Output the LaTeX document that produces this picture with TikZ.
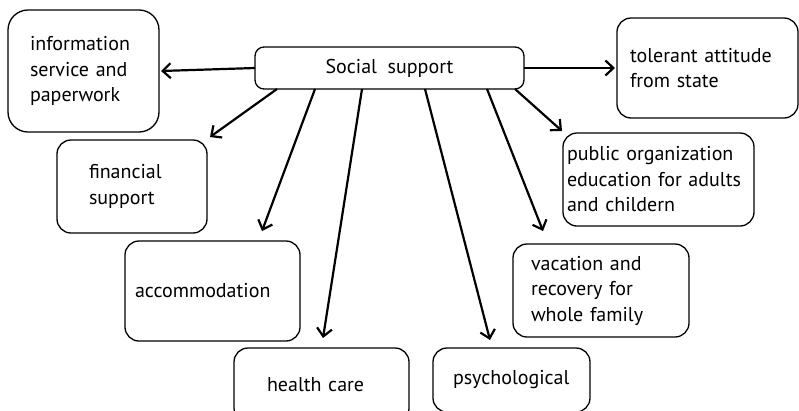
\documentclass[tikz,border=0pt]{standalone}
\usepackage{fontspec}
\setmainfont{PT Sans}
\usetikzlibrary{arrows.meta}

\begin{document}
\begin{tikzpicture}[x=1pt,y=-1pt,
    box/.style={draw, rounded corners=14pt, line width=1.3pt, anchor=north west,
        align=left, inner ysep=0pt, outer sep=0pt, font=\fontsize{20}{25.5}\selectfont},
    arr/.style={line width=2.2pt, -{Straight Barb[length=8pt,width=15pt]}}]
    \useasboundingbox (0,0) rectangle (799,410);
    \clip (0,0) rectangle (799,410);
    \node[box, rounded corners=9pt, align=center, minimum width=269, minimum height=42] (soc) at (255,47) {Social~~support};
    \node[box, rounded corners=20pt, minimum width=151, minimum height=122, text width=107, inner xsep=22] (info) at (8,10) {information\\service and\\paperwork};
    \node[box, minimum width=181, minimum height=100, text width=155, inner xsep=13] (tol) at (617,18) {tolerant attitude\\from state};
    \node[box, minimum width=150, minimum height=93, text width=86, inner xsep=32] (fin) at (57,140) {financial\\support};
    \node[box, minimum width=191, minimum height=93, text width=183, inner xsep=4] (pub) at (563,133) {public organization\\education for adults\\and childern};
    \node[box, minimum width=175, minimum height=100, text width=155, inner xsep=10] (acc) at (125,241) {accommodation};
    \node[box, minimum width=176, minimum height=93, text width=140, inner xsep=18] (vac) at (513,244) {vacation and\\recovery for\\whole family};
    \node[box, minimum width=175, minimum height=74, text width=109, inner xsep=33] (hc) at (234,348) {health care};
    \node[box, minimum width=157, minimum height=64, text width=117, inner xsep=20] (psy) at (433,348) {psychological};
    \draw[arr] (soc.west) -- ([xshift=2]info.east);
    \draw[arr] ([xshift=22]soc.south west) -- ([shift={(3,-3)}]fin.north east);
    \draw[arr] ([xshift=60]soc.south west) -- ([shift={(137,-10)}]acc.north west);
    \draw[arr] ([xshift=107]soc.south west) -- ([shift={(89,-10)}]hc.north west);
    \draw[arr] ([xshift=170]soc.south west) -- ([shift={(57,-8)}]psy.north west);
    \draw[arr] ([xshift=232]soc.south west) -- ([shift={(30,-13)}]vac.north west);
    \draw[arr] ([xshift=260]soc.south west) -- ([shift={(-1,-2)}]pub.north west);
    \draw[arr] (soc.east) -- ([xshift=-2]tol.west);
\end{tikzpicture}
\end{document}
